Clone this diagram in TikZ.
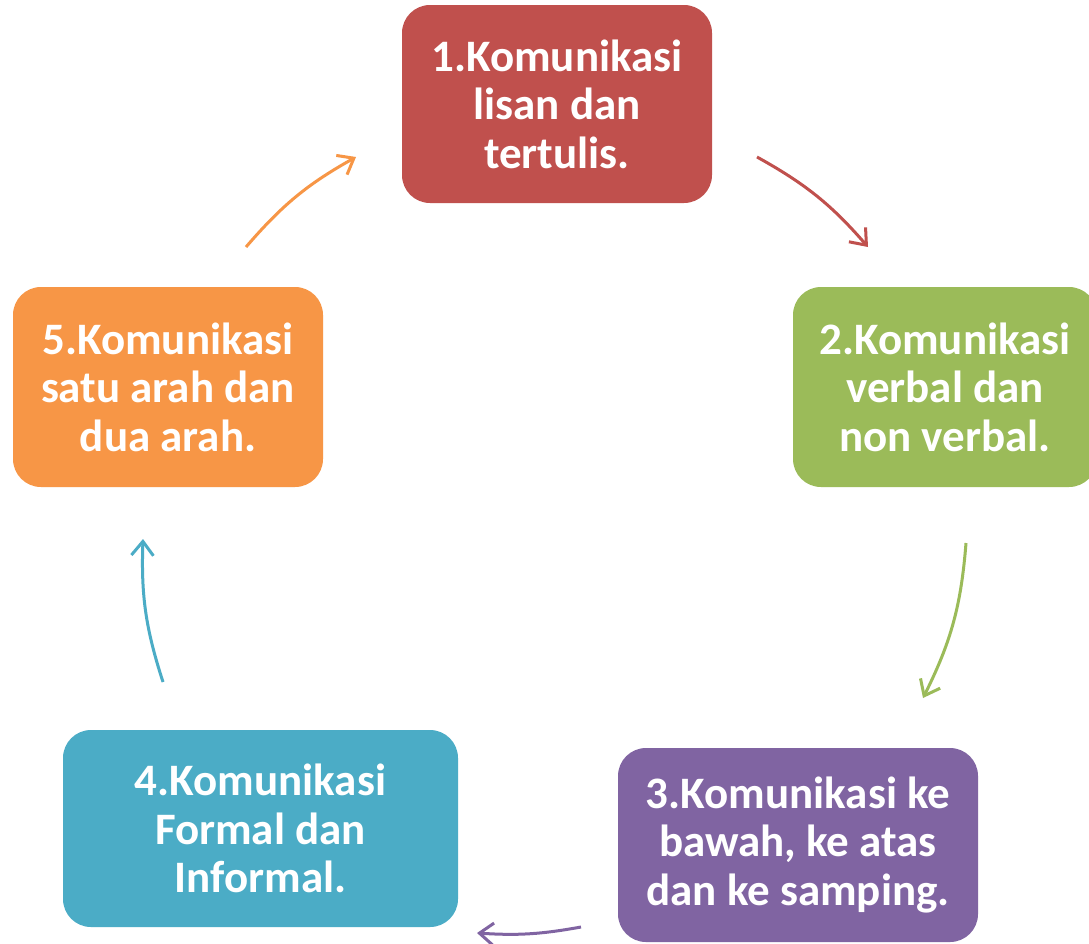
\documentclass[tikz,border=0pt]{standalone}
\usepackage{fontspec}
\setmainfont{Carlito}
\usetikzlibrary{arrows.meta}
\definecolor{cred}{HTML}{C0504D}
\definecolor{cgreen}{HTML}{9BBB59}
\definecolor{cpurple}{HTML}{8064A2}
\definecolor{cteal}{HTML}{4BACC6}
\definecolor{corange}{HTML}{F79646}
\begin{document}
\begin{tikzpicture}[x=1pt,y=-1pt,
  box/.style={rounded corners=28pt, text=white, font=\fontsize{45}{48.5}\selectfont\bfseries, align=center, inner sep=0pt},
  arr/.style={line width=3pt, -{Straight Barb[length=14pt,width=22pt]}}]
\clip (0,0) rectangle (1089,943);
\fill[white] (0,0) rectangle (1089,943);
\node[box, fill=cred, minimum width=310pt, minimum height=198pt] (n1) at (557,104) {1.Komunikasi\\lisan dan\\tertulis.};
\node[box, fill=cgreen, minimum width=304pt, minimum height=200pt] (n2) at (945,387) {2.Komunikasi\\verbal dan\\non verbal.};
\node[box, fill=cpurple, minimum width=360pt, minimum height=194pt] (n3) at (798,845) {3.Komunikasi ke\\bawah, ke atas\\dan ke samping.};
\node[box, fill=cteal, minimum width=395pt, minimum height=197pt] (n4) at (260.5,828.5) {4.Komunikasi\\Formal dan\\Informal.};
\node[box, fill=corange, minimum width=310pt, minimum height=200pt] (n5) at (168,387) {5.Komunikasi\\satu arah dan\\dua arah.};
\coordinate (a1s) at (757,157); \coordinate (a1e) at (868,247);
\coordinate (a2s) at (966,543); \coordinate (a2e) at (923,698);
\coordinate (a3s) at (581,927); \coordinate (a3e) at (477,933);
\coordinate (a4s) at (163,682); \coordinate (a4e) at (143,539);
\coordinate (a5s) at (246,247); \coordinate (a5e) at (356,157);
\draw[arr, cred] (a1s) to[bend left=10] (a1e);
\draw[arr, cgreen] (a2s) to[bend left=11] (a2e);
\draw[arr, cpurple] (a3s) to[bend left=7] (a3e);
\draw[arr, cteal] (a4s) to[bend left=10] (a4e);
\draw[arr, corange] (a5s) to[bend left=10] (a5e);
\end{tikzpicture}
\end{document}
